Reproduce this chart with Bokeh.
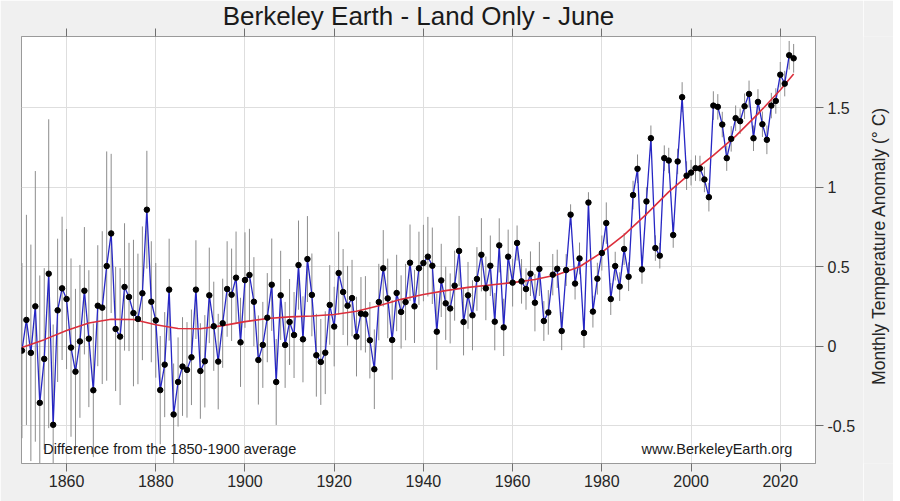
import math
from bokeh.plotting import figure
from bokeh.layouts import row
from bokeh.models import LinearAxis, FixedTicker, Label, ColumnDataSource, Range1d
from bokeh.core.properties import value
from bokeh.embed import file_html
from bokeh.resources import INLINE

years = list(range(1850, 2024))

anomaly = [
    -0.027, 0.166, -0.041, 0.251, -0.355, -0.079, 0.456, -0.493, 0.226, 0.364,
    0.297, -0.008, -0.159, 0.031, 0.349, 0.048, -0.276, 0.255, 0.243, 0.504,
    0.709, 0.109, 0.061, 0.373, 0.310, 0.209, 0.172, 0.333, 0.858, 0.280,
    0.163, -0.275, -0.115, 0.356, -0.428, -0.224, -0.127, -0.148, -0.069, 0.356,
    -0.155, -0.094, 0.320, 0.126, -0.096, 0.145, 0.360, 0.324, 0.431, 0.025,
    0.416, 0.448, 0.280, -0.086, 0.009, 0.180, 0.387, -0.224, 0.320, 0.009,
    0.153, 0.071, 0.510, 0.044, 0.548, 0.323, -0.056, -0.098, -0.040, 0.260,
    0.124, 0.460, 0.341, 0.255, 0.303, 0.061, 0.205, 0.201, 0.038, -0.144,
    0.278, 0.490, 0.301, 0.040, 0.335, 0.216, 0.278, 0.525, 0.251, 0.490,
    0.523, 0.563, 0.506, 0.092, 0.414, 0.270, 0.238, 0.381, 0.599, 0.153,
    0.320, 0.195, 0.423, 0.575, 0.364, 0.506, 0.155, 0.634, 0.119, 0.563,
    0.400, 0.649, 0.408, 0.360, 0.456, 0.274, 0.486, 0.159, 0.213, 0.450,
    0.487, 0.096, 0.479, 0.827, 0.394, 0.552, 0.084, 0.903, 0.218, 0.425,
    0.586, 0.774, 0.297, 0.504, 0.375, 0.611, 0.437, 0.950, 1.115, 0.483,
    0.910, 1.307, 0.617, 0.569, 1.182, 1.167, 0.699, 1.161, 1.565, 1.072,
    1.091, 1.119, 1.117, 1.048, 0.937, 1.512, 1.504, 1.393, 1.182, 1.303,
    1.433, 1.414, 1.508, 1.585, 1.307, 1.535, 1.395, 1.297, 1.512, 1.541,
    1.706, 1.650, 1.828, 1.809,
]

uncertainty = [
    0.55, 0.66, 0.68, 0.85, 0.80, 0.57, 0.97, 0.63, 0.45, 0.45,
    0.44, 0.56, 0.52, 0.48, 0.40, 0.43, 0.42, 0.38, 0.48, 0.72,
    0.50, 0.39, 0.43, 0.40, 0.34, 0.46, 0.41, 0.42, 0.37, 0.38,
    0.36, 0.34, 0.33, 0.32, 0.32, 0.28, 0.31, 0.30, 0.30, 0.31,
    0.30, 0.29, 0.30, 0.28, 0.30, 0.28, 0.30, 0.29, 0.29, 0.28,
    0.30, 0.29, 0.28, 0.28, 0.27, 0.28, 0.29, 0.27, 0.28, 0.27,
    0.27, 0.27, 0.28, 0.27, 0.27, 0.26, 0.26, 0.27, 0.26, 0.25,
    0.25, 0.26, 0.27, 0.25, 0.24, 0.25, 0.23, 0.24, 0.24, 0.25,
    0.24, 0.24, 0.25, 0.25, 0.24, 0.23, 0.24, 0.24, 0.23, 0.23,
    0.24, 0.25, 0.24, 0.24, 0.23, 0.23, 0.22, 0.22, 0.22, 0.21,
    0.21, 0.22, 0.20, 0.23, 0.20, 0.19, 0.18, 0.17, 0.18, 0.17,
    0.15, 0.11, 0.14, 0.13, 0.14, 0.18, 0.17, 0.125, 0.14, 0.13,
    0.12, 0.12, 0.10, 0.065, 0.10, 0.10, 0.094, 0.065, 0.10, 0.10,
    0.11, 0.13, 0.10, 0.09, 0.09, 0.10, 0.09, 0.09, 0.09, 0.09,
    0.09, 0.08, 0.08, 0.08, 0.08, 0.08, 0.08, 0.08, 0.094, 0.09,
    0.08, 0.08, 0.08, 0.08, 0.09, 0.09, 0.08, 0.08, 0.08, 0.08,
    0.08, 0.08, 0.08, 0.084, 0.08, 0.08, 0.08, 0.09, 0.08, 0.08,
    0.08, 0.08, 0.09, 0.09,
]

smooth_years = [1850, 1855, 1860, 1865, 1870, 1875, 1880, 1885, 1890, 1895,
                1900, 1905, 1910, 1915, 1920, 1925, 1930, 1935, 1940, 1945,
                1950, 1955, 1960, 1965, 1970, 1975, 1980, 1985, 1990, 1995,
                2000, 2005, 2010, 2015, 2020, 2023]
smooth_values = [-0.008, 0.042, 0.100, 0.147, 0.170, 0.168, 0.135, 0.112, 0.110, 0.130,
                 0.155, 0.175, 0.185, 0.190, 0.200, 0.220, 0.255, 0.295, 0.325, 0.350,
                 0.370, 0.385, 0.400, 0.420, 0.450, 0.500, 0.590, 0.700, 0.830, 0.970,
                 1.090, 1.200, 1.320, 1.460, 1.610, 1.710]

x_ticks = [1860, 1880, 1900, 1920, 1940, 1960, 1980, 2000, 2020]
y_ticks = [-0.5, 0, 0.5, 1, 1.5]
y_tick_labels = ["-0.5", "0", "0.5", "1", "1.5"]

title_text = "Berkeley Earth - Land Only - June"
y_label = "Monthly Temperature Anomaly (\u00b0 C)"
note_left = "Difference from the 1850-1900 average"
note_right = "www.BerkeleyEarth.org"

FONT = "Liberation Sans"
GRAY_BG = "#f0f0f0"

lo = [v - u for v, u in zip(anomaly, uncertainty)]
hi = [v + u for v, u in zip(anomaly, uncertainty)]
src = ColumnDataSource(dict(year=years, val=anomaly, lo=lo, hi=hi))

p = figure(width=863, height=501, output_backend="svg", toolbar_location=None,
           x_range=Range1d(1849.9, 2027.9), y_range=Range1d(-0.736, 1.946),
           y_axis_location="right", title=title_text,
           min_border_left=21, min_border_right=48, min_border_top=36, min_border_bottom=38)

p.background_fill_color = "white"
p.border_fill_color = GRAY_BG
p.outline_line_color = "#9a9a9a"
p.outline_line_width = 1

p.title.align = "center"
p.title.text_font = FONT
p.title.text_font_size = "26px"
p.title.text_font_style = "normal"
p.title.text_color = "#1a1a1a"
p.title.standoff = -4

# grids
p.xgrid.ticker = FixedTicker(ticks=x_ticks)
p.ygrid.ticker = FixedTicker(ticks=y_ticks)
for g in (p.xgrid, p.ygrid):
    g.grid_line_color = "#dedede"
    g.grid_line_width = 1

# bottom axis
xa = p.xaxis[0]
xa.ticker = FixedTicker(ticks=x_ticks)
xa.major_label_text_font = FONT
xa.major_label_text_font_size = "16px"
xa.major_label_text_color = "#262626"
xa.axis_line_color = "#9a9a9a"
xa.major_tick_line_color = "#707070"
xa.major_tick_out = 8
xa.major_tick_in = 0
xa.minor_tick_line_color = None
xa.major_label_standoff = 3

# right axis (label drawn in the side panel)
ya = p.yaxis[0]
ya.ticker = FixedTicker(ticks=y_ticks)
ya.major_label_overrides = {t: s for t, s in zip(y_ticks, y_tick_labels)}
ya.major_label_text_font = FONT
ya.major_label_text_font_size = "16px"
ya.major_label_text_color = "#262626"
ya.axis_line_color = "#9a9a9a"
ya.major_tick_line_color = "#707070"
ya.major_tick_out = 8
ya.major_tick_in = 0
ya.minor_tick_line_color = None
ya.major_label_standoff = 4

# top axis: ticks only
top = LinearAxis(ticker=FixedTicker(ticks=x_ticks))
top.major_label_text_font_size = "1px"
top.major_label_text_color = None
top.major_label_standoff = 0
top.axis_line_color = "#9a9a9a"
top.major_tick_line_color = "#707070"
top.major_tick_out = 8
top.major_tick_in = 0
top.minor_tick_line_color = None
p.add_layout(top, "above")

# error bars
p.segment(x0="year", y0="lo", x1="year", y1="hi", source=src,
          line_color="#8c8c8c", line_width=1)
# series line
p.line(x="year", y="val", source=src, line_color="#2626c4", line_width=1.3)
# smooth
p.line(x=smooth_years, y=smooth_values, line_color="#dc2f3c", line_width=1.6)
# points
p.scatter(x="year", y="val", source=src, size=5.5, fill_color="black", line_color="black")

p.add_layout(Label(x=1854.8, y=-0.643, text=note_left, text_align="left",
                   text_baseline="alphabetic", text_font=FONT, text_font_size="14.5px",
                   text_color="#1a1a1a"))
p.add_layout(Label(x=2022.7, y=-0.643, text=note_right, text_align="right",
                   text_baseline="alphabetic", text_font=FONT, text_font_size="14.5px",
                   text_color="#1a1a1a"))

# side panel holding the y-axis title, reading bottom-to-top
side = figure(width=30, height=501, output_backend="svg", toolbar_location=None,
              x_range=Range1d(0, 1), y_range=Range1d(0, 501),
              min_border=0, min_border_left=0, min_border_right=0,
              min_border_top=0, min_border_bottom=0)
side.axis.visible = False
side.grid.visible = False
side.outline_line_color = None
side.background_fill_color = GRAY_BG
side.border_fill_color = GRAY_BG
side.text(x=[0.5], y=[255.5], text=[y_label], angle=math.pi / 2,
          text_align="center", text_baseline="middle",
          text_font=value(FONT), text_font_size=value("17.5px"), text_color="#262626")

layout = row(p, side, spacing=0)

html = file_html(layout, INLINE)
html = html.replace("<body>", '<body style="background-color:#f0f0f0">', 1)
open("out.html", "w").write(html)
